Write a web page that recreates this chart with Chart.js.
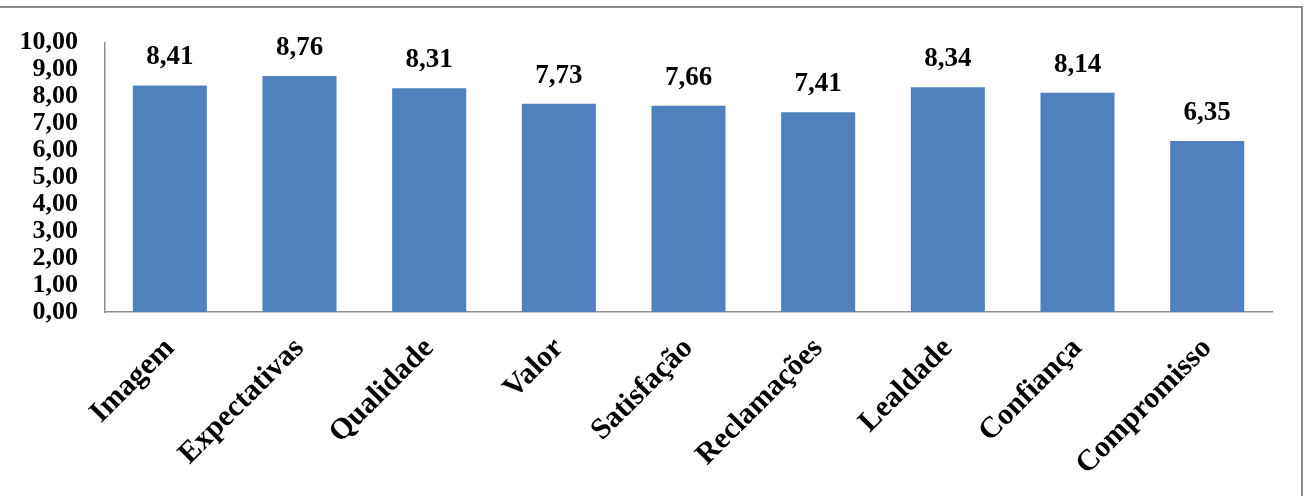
<!DOCTYPE html>
<html>
<head>
<meta charset="utf-8">
<script src="https://cdn.jsdelivr.net/npm/chart.js@4/dist/chart.umd.min.js"></script>
<style>
    html, body {margin: 0; padding: 0; background: #fff;}
    #wrap {width: 1309px; height: 496px;}
</style>
</head>
<body>
<div id="wrap"><canvas id="chart"></canvas></div>
<script>
const categories = ['Imagem', 'Expectativas', 'Qualidade', 'Valor', 'Satisfação', 'Reclamações', 'Lealdade', 'Confiança', 'Compromisso'];
const scores = [8.41, 8.76, 8.31, 7.73, 7.66, 7.41, 8.34, 8.14, 6.35];
const yTicks = [0, 1, 2, 3, 4, 5, 6, 7, 8, 9, 10];

const serif = '"Liberation Serif", "Times New Roman", serif';

function fmt(v) {
    return Number(v).toFixed(2).replace('.', ',');
}

// value labels on top of the bars
const valueLabels = {
    id: 'valueLabels',
    afterDatasetsDraw(chart) {
        const ctx = chart.ctx;
        const meta = chart.getDatasetMeta(0);
        ctx.save();
        ctx.font = 'bold 27px ' + serif;
        ctx.fillStyle = '#000';
        ctx.textAlign = 'center';
        ctx.textBaseline = 'middle';
        meta.data.forEach((bar, i) => {
            ctx.fillText(fmt(scores[i]), bar.x, bar.y - 28);
        });
        ctx.restore();
    }
};

// outer frame, only top and right edges are inside the picture
const frame = {
    id: 'frame',
    afterDraw(chart) {
        const ctx = chart.ctx;
        ctx.save();
        ctx.strokeStyle = '#8c8c8c';
        ctx.lineWidth = 2;
        ctx.beginPath();
        ctx.moveTo(0, 7);
        ctx.lineTo(1302, 7);
        ctx.lineTo(1302, 496);
        ctx.stroke();
        ctx.restore();
    }
};

new Chart(document.getElementById('chart'), {
    type: 'bar',
    data: {
        labels: categories,
        datasets: [{
            data: scores,
            backgroundColor: '#4f81bd',
            borderWidth: 0,
            barPercentage: 0.571,
            categoryPercentage: 1.0
        }]
    },
    options: {
        responsive: true,
        maintainAspectRatio: false,
        animation: false,
        layout: {padding: {left: 0, top: 40, right: 37, bottom: 0}},
        plugins: {
            legend: {display: false},
            tooltip: {enabled: false}
        },
        scales: {
            x: {
                grid: {display: false, drawTicks: false},
                border: {display: true, color: '#8e8e8e', width: 1.5},
                ticks: {
                    color: '#000',
                    font: {family: serif, size: 30, weight: 'bold'},
                    autoSkip: false,
                    minRotation: 45,
                    maxRotation: 45,
                    padding: 19
                },
                afterFit(scale) {
                    scale.height = 184;
                }
            },
            y: {
                min: 0,
                max: 10,
                grid: {display: false, drawTicks: false},
                border: {display: true, color: '#8e8e8e', width: 1.5},
                afterBuildTicks(scale) {
                    scale.ticks = yTicks.map(v => ({value: v}));
                },
                ticks: {
                    color: '#000',
                    font: {family: serif, size: 26, weight: 'bold'},
                    autoSkip: false,
                    padding: 27,
                    callback: (v) => fmt(v)
                },
                afterFit(scale) {
                    scale.width = 105;
                }
            }
        }
    },
    plugins: [valueLabels, frame]
});
</script>
</body>
</html>
